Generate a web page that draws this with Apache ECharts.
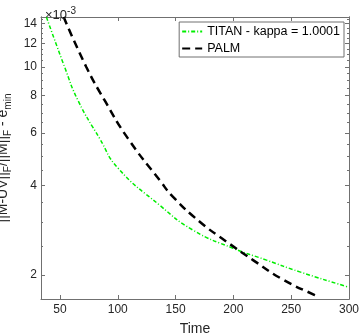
<!DOCTYPE html>
<html>
<head>
<meta charset="utf-8">
<script src="https://cdn.jsdelivr.net/npm/echarts@6/dist/echarts.min.js"></script>
<style>
html, body {margin: 0; padding: 0; background: #fff;}
#chart {width: 360px; height: 336px;}
</style>
</head>
<body>
<div id="chart"></div>
<script>
// 数据 (y 单位: 1e-3)
var titanX = [38.3, 54.1, 65.6, 84.4, 100, 136.3, 165.1, 199.7, 228.6, 257.4, 297.8, 300];
var titanY = [14.7, 9.97, 7.71, 5.74, 4.58, 3.43, 2.83, 2.46, 2.245, 2.05, 1.83, 1.82];
var palmX = [53.2, 72.9, 88.7, 108.9, 136.3, 147.8, 170.9, 194, 217, 243, 270.4, 273.8];
var palmY = [14.7, 9.97, 7.71, 5.74, 4.16, 3.66, 3.02, 2.59, 2.245, 1.93, 1.714, 1.70];

var xTicks = [50, 100, 150, 200, 250, 300];
var yMajor = [2, 4, 6, 8, 10, 12, 14];
var yMinor = [2, 2.5, 3, 3.5, 4, 4.5, 5, 5.5, 6, 6.5, 7, 7.5, 8, 8.5, 9, 9.5, 10, 10.5, 11, 11.5, 12, 12.5, 13, 13.5, 14, 14.5];

var xMin = 33.6, xMax = 300;
var yMin = 1.662, yMax = 14.7;

var lg = function (v) { return Math.log10(v); };
var toPairs = function (xs, ys) {
    var out = [];
    for (var i = 0; i < xs.length; i++) {
        out.push([xs[i], lg(ys[i])]);
    }
    return out;
};

var axisColor = '#707070';
var textColor = '#262626';
var font = 'Liberation Sans, Arial, sans-serif';

function yAxisBase(pos, ticks, len, showLabel) {
    return {
        type: 'value',
        position: pos,
        min: lg(yMin),
        max: lg(yMax),
        axisLine: {show: true, lineStyle: {color: axisColor, width: 1}},
        axisTick: {show: true, inside: true, length: len, customValues: ticks.map(lg),
            lineStyle: {color: axisColor}},
        axisLabel: {show: showLabel, customValues: yMajor.map(lg), margin: 4, fontSize: 12,
            color: textColor, fontFamily: font,
            formatter: function (v) { return Math.round(Math.pow(10, v)); }},
        splitLine: {show: false}
    };
}

var myChart = echarts.init(document.getElementById('chart'));

var leftMajor = yAxisBase('left', yMajor, 4, true);
leftMajor.name = '||M-UV||{s|F}/||M||{s|F} - e{s|min}';
leftMajor.nameLocation = 'middle';
leftMajor.nameGap = 21;
leftMajor.nameTextStyle = {
    fontSize: 14, color: textColor, fontFamily: font, lineHeight: 20,
    rich: {s: {fontSize: 10, lineHeight: 10, verticalAlign: 'bottom', color: textColor, fontFamily: font}}
};

var option = {
    animation: false,
    title: {
        text: '{a|×10}{b|-3}',
        left: 40,
        top: 1,
        textStyle: {
            rich: {
                a: {fontSize: 13, lineHeight: 18, color: textColor, fontFamily: font, fontWeight: 'normal'},
                b: {fontSize: 10, lineHeight: 10, verticalAlign: 'top', color: textColor, fontFamily: font, fontWeight: 'normal'}
            }
        }
    },
    grid: {left: 41, right: 11, top: 17, bottom: 37, containLabel: false, outerBoundsMode: 'none'},
    legend: {
        data: ['TITAN - kappa = 1.0001', 'PALM'],
        orient: 'vertical',
        right: 16,
        top: 22,
        itemWidth: 20,
        itemHeight: 12,
        itemGap: 4,
        padding: [3, 4, 2, 2],
        borderColor: axisColor,
        borderWidth: 1,
        borderRadius: 0,
        backgroundColor: '#fff',
        itemStyle: {opacity: 0},
        textStyle: {fontSize: 12.5, color: '#000', fontFamily: font}
    },
    xAxis: [
        {
            type: 'value',
            position: 'bottom',
            min: xMin,
            max: xMax,
            axisLine: {show: true, lineStyle: {color: axisColor, width: 1}},
            axisTick: {show: true, inside: true, length: 4, customValues: xTicks, lineStyle: {color: axisColor}},
            axisLabel: {customValues: xTicks, margin: 5, fontSize: 12, color: textColor, fontFamily: font},
            splitLine: {show: false},
            name: 'Time',
            nameLocation: 'middle',
            nameGap: 23,
            nameTextStyle: {fontSize: 14, color: textColor, fontFamily: font}
        },
        {
            type: 'value',
            position: 'top',
            min: xMin,
            max: xMax,
            axisLine: {show: true, lineStyle: {color: axisColor, width: 1}},
            axisTick: {show: true, inside: true, length: 4, customValues: xTicks, lineStyle: {color: axisColor}},
            axisLabel: {show: false},
            splitLine: {show: false}
        }
    ],
    yAxis: [
        leftMajor,
        yAxisBase('left', yMinor, 2, false),
        yAxisBase('right', yMajor, 4, false),
        yAxisBase('right', yMinor, 2, false)
    ],
    series: [
        {
            name: 'TITAN - kappa = 1.0001',
            type: 'line',
            symbol: 'none',
            smooth: 0.5,
            clip: true,
            data: toPairs(titanX, titanY),
            lineStyle: {color: '#00ee00', width: 1.5, type: [4, 2, 1, 2]},
            itemStyle: {color: '#00ee00'}
        },
        {
            name: 'PALM',
            type: 'line',
            symbol: 'none',
            smooth: 0.5,
            clip: true,
            data: toPairs(palmX, palmY),
            lineStyle: {color: '#000', width: 2.5, type: [8, 5]},
            itemStyle: {color: '#000'}
        }
    ]
};

myChart.setOption(option);
</script>
</body>
</html>
